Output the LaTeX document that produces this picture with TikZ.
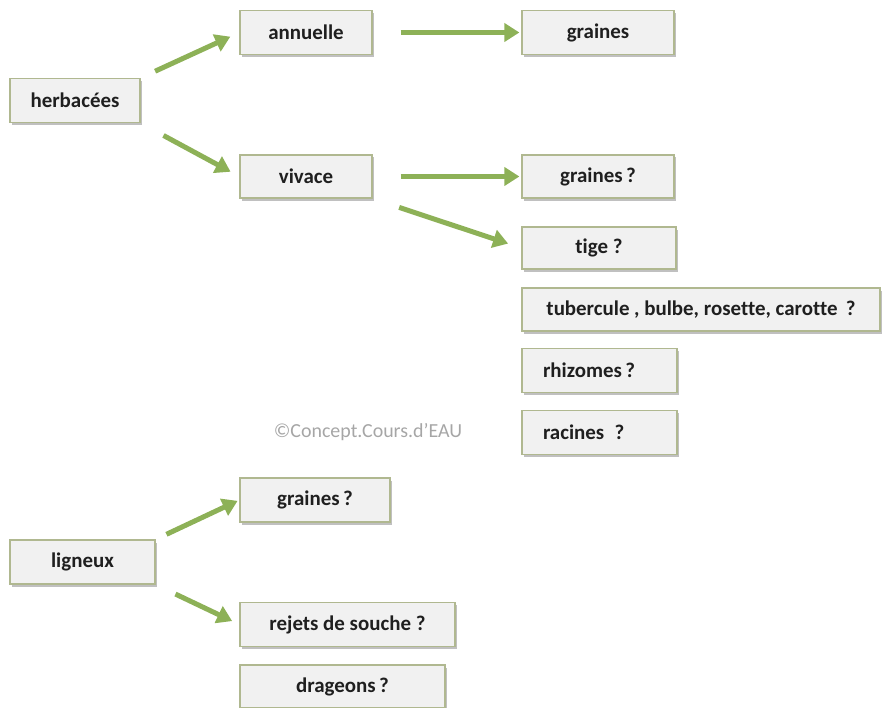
\documentclass[tikz,border=0pt]{standalone}
\usepackage{fontspec}
\setmainfont{Carlito}[Ligatures=NoCommon]
\usetikzlibrary{arrows.meta,shadows}

\definecolor{boxline}{HTML}{B0B890}
\definecolor{boxfill}{HTML}{F1F1F1}
\definecolor{arrowgreen}{HTML}{8DB157}

\tikzset{
  box/.style={draw=boxline, fill=boxfill, line width=1.2bp,
    minimum height=44bp, inner sep=0pt,
    font=\fontsize{21}{24}\selectfont\bfseries, text=black!88,
    drop shadow={shadow xshift=2bp, shadow yshift=-2.5bp, fill=black!45, opacity=.55}},
  leftbox/.style={box, align=left, text width=#1},
  arr/.style={draw=arrowgreen, line width=5bp,
    -{Triangle[length=15bp, width=18bp]}},
}

\begin{document}
\begin{tikzpicture}[x=1bp, y=-1bp]
  \useasboundingbox (0,0) rectangle (882,708);
  % herbacees
  \node[box, minimum width=130bp] (herb) at (75,100.5) {herbacées};
  \node[box, minimum width=132bp] (annu) at (306,32.5) {annuelle};
  \node[box, minimum width=152bp] (gr1) at (598,32.5) {graines};
  \node[box, minimum width=132bp, minimum height=43bp] (viv) at (306,176.5) {vivace};
  \node[box, minimum width=152bp, minimum height=43bp] (gr2) at (598,176.5) {graines\,?};
  \node[box, minimum width=154bp, minimum height=42bp] (tige) at (599,248) {tige ?};
  \node[box, minimum width=358bp, minimum height=43bp] (tub) at (701,309.5) {tubercule , bulbe, rosette, carotte\ \,?};
  \node[leftbox=113bp, minimum width=155bp] (rhiz) at (599.5,370.5) {rhizomes\,?};
  \node[leftbox=113bp, minimum width=155bp] (rac) at (599.5,432.5) {racines\ \,?};
  \node[text=black!35, font=\fontsize{20}{22}\selectfont] (copy) at (368,432) {©Concept.Cours.d’EAU};
  % ligneux
  \node[box, minimum width=145bp] (lign) at (82.5,562) {ligneux};
  \node[box, minimum width=150bp] (gr3) at (315,500) {graines\,?};
  \node[box, minimum width=215bp] (rej) at (347.5,624.5) {rejets de souche ?};
  \node[box, minimum width=205bp, minimum height=43bp] (drag) at (342.5,686.5) {drageons\,?};

  \draw[arr, shorten <=16bp, shorten >=10bp] (herb.north east) -- (annu.west);
  \draw[arr, shorten <=26bp, shorten >=10bp] (herb.south east) -- (viv.west);
  \draw[arr, shorten <=28bp, shorten >=2bp] (annu.east) -- (gr1.west);
  \draw[arr, shorten <=28bp, shorten >=2bp] (viv.east) -- (gr2.west);
  \draw[arr, shorten <=28bp, shorten >=14bp] (viv.south east) -- (tige.west);
  \draw[arr, shorten <=12bp, shorten >=2bp] (lign.north east) -- (gr3.west);
  \draw[arr, shorten <=22bp, shorten >=8bp] (lign.south east) -- (rej.west);
\end{tikzpicture}
\end{document}
